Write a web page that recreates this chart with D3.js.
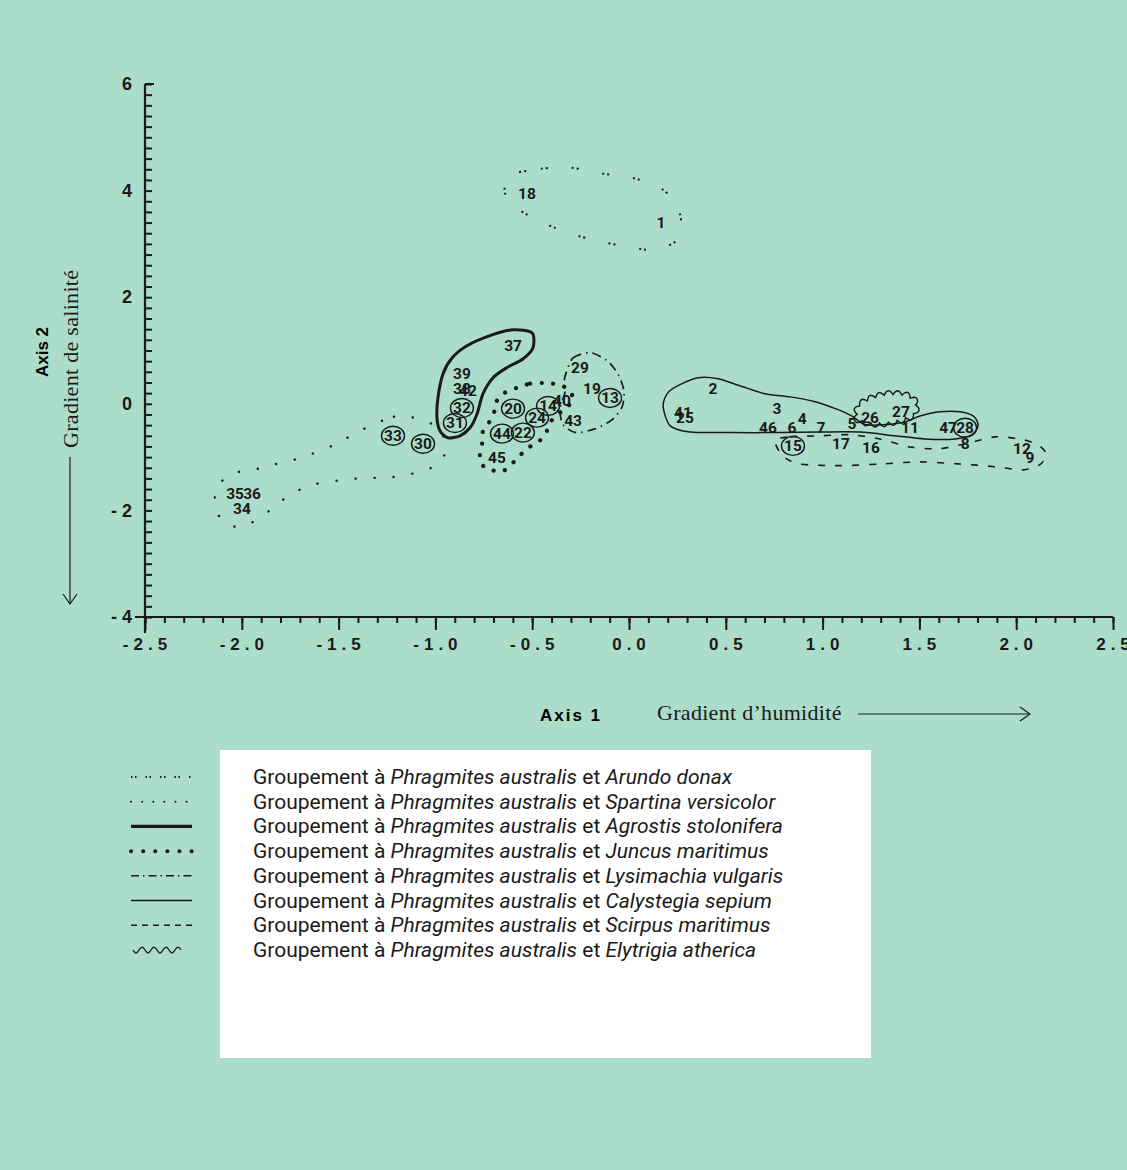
<!DOCTYPE html>
<html>
<head>
<meta charset="utf-8">
<title>Ordination des groupements à Phragmites</title>
<script src="https://cdn.jsdelivr.net/npm/d3@7"></script>
<style>
  html, body { margin: 0; padding: 0; background: #acdcca; }
  #chart svg { display: block; }
  .lbl { font-family: 'Liberation Sans Narrow', 'Arial Narrow', 'Roboto', sans-serif; font-size: 15.5px; font-weight: bold; fill: #1a1a1a; }
  .serif { font-family: 'Liberation Serif', 'DejaVu Serif', serif; font-size: 22px; letter-spacing: 0.3px; fill: #1a1a1a; }
  .leg { font-family: 'Liberation Sans Narrow', 'Arial Narrow', 'Roboto', sans-serif; font-size: 21px; fill: #1a1a1a; }
</style>
</head>
<body>
<div id="chart"></div>
<script>
// tick labels
const xTicks = [-2.5, -2.0, -1.5, -1.0, -0.5, 0.0, 0.5, 1.0, 1.5, 2.0, 2.5]
const yTicks = [-4, -2, 0, 2, 4, 6]

// releves (numbers, axis 1, axis 2)
const pointIds = [1, 2, 3, 4, 5, 6, 7, 8, 9, 11, 12, 13, 14, 15, 16, 17, 18, 19, 20, 22, 24, 25, 26, 27, 28, 29, 30, 31, 32, 33, 34, 35, 36, 37, 38, 39, 40, 41, 42, 43, 44, 45, 46, 47]
const pointX = [0.165, 0.434, 0.764, 0.894, 1.152, 0.842, 0.992, 1.736, 2.071, 1.451, 2.03, -0.098, -0.418, 0.847, 1.25, 1.095, -0.527, -0.191, -0.599, -0.548, -0.475, 0.289, 1.245, 1.405, 1.736, -0.253, -1.064, -0.899, -0.863, -1.219, -1.999, -2.035, -1.947, -0.599, -0.863, -0.863, -0.346, 0.279, -0.832, -0.289, -0.656, -0.682, 0.718, 1.648]
const pointY = [3.40, 0.28, -0.09, -0.28, -0.38, -0.45, -0.45, -0.75, -1.01, -0.45, -0.84, 0.11, -0.04, -0.79, -0.83, -0.75, 3.94, 0.28, -0.09, -0.54, -0.26, -0.26, -0.26, -0.15, -0.45, 0.68, -0.75, -0.36, -0.08, -0.60, -1.97, -1.69, -1.69, 1.09, 0.28, 0.56, 0.06, -0.17, 0.24, -0.32, -0.56, -1.01, -0.45, -0.45]
const circled = [13, 14, 15, 20, 22, 24, 28, 30, 31, 32, 33, 44]

// group outlines (axis 1, axis 2)
const arundoX = [-0.620, -0.455, -0.300, -0.139, -0.010, 0.119, 0.207, 0.263, 0.263, 0.139, 0.021, -0.191, -0.382, -0.579, -0.640]
const arundoY = [4.28, 4.41, 4.43, 4.32, 4.26, 4.13, 3.92, 3.56, 3.11, 2.89, 2.93, 3.08, 3.30, 3.66, 3.94]
const spartinaX = [-1.193, -1.276, -1.369, -1.457, -1.534, -1.637, -1.730, -1.834, -1.942, -2.051, -2.128, -2.138, -2.107, -2.025, -1.921, -1.839, -1.736, -1.612, -1.503, -1.369, -1.255, -1.147, -1.043, -0.966, -0.950, -0.976, -1.090]
const spartinaY = [-0.23, -0.32, -0.47, -0.64, -0.79, -0.94, -1.05, -1.14, -1.24, -1.31, -1.56, -1.88, -2.16, -2.31, -2.18, -1.95, -1.67, -1.50, -1.44, -1.39, -1.39, -1.33, -1.24, -1.05, -0.83, -0.47, -0.28]
const agrostisX = [-0.501, -0.599, -0.718, -0.837, -0.914, -0.961, -0.987, -0.992, -0.976, -0.935, -0.873, -0.821, -0.785, -0.754, -0.702, -0.630, -0.548, -0.496]
const agrostisY = [1.33, 1.39, 1.28, 1.09, 0.86, 0.56, 0.11, -0.26, -0.51, -0.64, -0.60, -0.45, -0.19, 0.19, 0.49, 0.68, 0.84, 1.05]
const juncusX = [-0.579, -0.511, -0.449, -0.398, -0.346, -0.305, -0.289, -0.331, -0.393, -0.418, -0.460, -0.527, -0.579, -0.651, -0.744, -0.770, -0.759, -0.754, -0.718, -0.692, -0.682, -0.640]
const juncusY = [0.30, 0.38, 0.39, 0.38, 0.34, 0.24, 0.06, -0.09, -0.28, -0.47, -0.69, -0.84, -1.03, -1.26, -1.20, -0.98, -0.75, -0.51, -0.32, -0.11, 0.06, 0.21]
const lysimachiaX = [-0.325, -0.289, -0.201, -0.114, -0.057, -0.026, -0.036, -0.088, -0.176, -0.274, -0.341, -0.356, -0.331, -0.336]
const lysimachiaY = [0.58, 0.86, 0.96, 0.81, 0.56, 0.24, -0.06, -0.30, -0.47, -0.54, -0.39, -0.09, 0.21, 0.39]
const calystegiaX = [0.176, 0.201, 0.263, 0.356, 0.460, 0.573, 0.702, 0.832, 0.961, 1.080, 1.152, 1.219, 1.322, 1.426, 1.503, 1.606, 1.710, 1.782, 1.803, 1.772, 1.684, 1.529, 1.374, 1.193, 0.987, 0.780, 0.522, 0.315, 0.212]
const calystegiaY = [-0.04, 0.21, 0.36, 0.49, 0.47, 0.34, 0.19, 0.13, 0.04, -0.11, -0.23, -0.39, -0.39, -0.34, -0.23, -0.15, -0.15, -0.24, -0.41, -0.58, -0.66, -0.66, -0.60, -0.53, -0.53, -0.54, -0.54, -0.53, -0.41]
const scirpusX = [0.754, 0.832, 0.987, 1.142, 1.296, 1.451, 1.606, 1.761, 1.890, 2.020, 2.113, 2.154, 2.123, 2.035, 1.890, 1.710, 1.503, 1.296, 1.090, 0.883, 0.795]
const scirpusY = [-0.69, -0.62, -0.60, -0.58, -0.66, -0.81, -0.84, -0.73, -0.62, -0.66, -0.77, -0.94, -1.14, -1.24, -1.18, -1.13, -1.09, -1.13, -1.16, -1.13, -0.98]
const elytrigiaX = [1.183, 1.193, 1.255, 1.338, 1.426, 1.477, 1.467, 1.374, 1.271]
const elytrigiaY = [-0.28, -0.04, 0.09, 0.17, 0.15, 0.02, -0.19, -0.32, -0.36]

// legend
const legendSpecies = ['Arundo donax', 'Spartina versicolor', 'Agrostis stolonifera', 'Juncus maritimus', 'Lysimachia vulgaris', 'Calystegia sepium', 'Scirpus maritimus', 'Elytrigia atherica']
const legendStyles = ['arundo', 'spartina', 'agrostis', 'juncus', 'lysimachia', 'calystegia', 'scirpus', 'elytrigia']

function draw() {
  // Dimensions
  const dimensions = {
    width: 1127,
    height: 1170,
    margins: { left: 145, top: 84, right: 14, bottom: 553 },
  }
  const ctrW = dimensions.width - dimensions.margins.left - dimensions.margins.right
  const ctrH = dimensions.height - dimensions.margins.top - dimensions.margins.bottom

  // Scales
  const xScale = d3.scaleLinear().domain([-2.5, 2.5]).range([0, ctrW])
  const yScale = d3.scaleLinear().domain([-4, 6]).range([ctrH, 0])

  const svg = d3
    .select('#chart')
    .append('svg')
    .attr('width', dimensions.width)
    .attr('height', dimensions.height)

  svg.append('rect').attr('width', dimensions.width).attr('height', dimensions.height).attr('fill', '#acdcca')

  const ctr = svg.append('g').attr('transform', `translate(${dimensions.margins.left}, ${dimensions.margins.top})`)

  // Axes
  const xMinor = d3.range(-25, 26).map((d) => d / 10)
  const yMinor = d3.range(-20, 31).map((d) => d / 5)

  const xMinorAxis = d3.axisBottom(xScale).tickValues(xMinor).tickSize(6).tickFormat('')
  const xAxis = d3.axisBottom(xScale).tickValues(xTicks).tickSize(13).tickPadding(8).tickFormat((d) => d.toFixed(1))
  const yMinorAxis = d3.axisRight(yScale).tickValues(yMinor).tickSize(7).tickFormat('')
  const yAxis = d3.axisLeft(yScale).tickValues(yTicks).tickSize(0).tickPadding(13).tickFormat((d) => (d < 0 ? '- ' + -d : d))

  const styleAxis = (g) => {
    g.selectAll('.domain').remove()
    g.selectAll('line').attr('stroke', '#1a1a1a').attr('stroke-width', 2)
  }

  ctr.append('g').attr('transform', `translate(0, ${ctrH})`).call(xMinorAxis).call(styleAxis)
  ctr.append('g').attr('transform', `translate(0, ${ctrH})`).call(xAxis).call(styleAxis)
    .attr('font-family', "'Liberation Sans', Arial, sans-serif").attr('font-size', 17).attr('font-weight', 'bold')
    .selectAll('text').attr('fill', '#1a1a1a').attr('dx', '2px').style('letter-spacing', '5px')
  ctr.append('g').call(yMinorAxis).call(styleAxis)
  ctr.append('g').call(yAxis).call(styleAxis)
    .attr('font-family', "'Liberation Sans', Arial, sans-serif").attr('font-size', 18).attr('font-weight', 'bold')
    .selectAll('text').attr('fill', '#1a1a1a')

  // axis lines
  ctr.append('line').attr('x1', 0).attr('x2', ctrW).attr('y1', ctrH).attr('y2', ctrH).attr('stroke', '#1a1a1a').attr('stroke-width', 2.2)
  ctr.append('line').attr('x1', 0).attr('x2', 0).attr('y1', 0).attr('y2', ctrH + 16).attr('stroke', '#1a1a1a').attr('stroke-width', 2.2)
  ctr.append('line').attr('x1', -10).attr('x2', 0).attr('y1', ctrH).attr('y2', ctrH).attr('stroke', '#1a1a1a').attr('stroke-width', 2)
  ctr.append('line').attr('x1', 0).attr('x2', 9).attr('y1', 0).attr('y2', 0).attr('stroke', '#1a1a1a').attr('stroke-width', 2)

  // group outlines
  const closed = d3.line().x((d) => xScale(d[0])).y((d) => yScale(d[1])).curve(d3.curveCardinalClosed.tension(0.2))
  const zip = (xs, ys) => xs.map((x, i) => [x, ys[i]])

  const groups = ctr.append('g').attr('fill', 'none').attr('stroke', '#1a1a1a')
  groups.append('path').attr('d', closed(zip(arundoX, arundoY))).attr('stroke-width', 2).attr('stroke-dasharray', '2,3,2,24')
  groups.append('path').attr('d', closed(zip(spartinaX, spartinaY))).attr('stroke-width', 2.4).attr('stroke-linecap', 'round').attr('stroke-dasharray', '0.1,19')
  groups.append('path').attr('d', closed(zip(agrostisX, agrostisY))).attr('stroke-width', 3)
  groups.append('path').attr('d', closed(zip(juncusX, juncusY))).attr('stroke-width', 4.2).attr('stroke-linecap', 'round').attr('stroke-dasharray', '0.1,11.5')
  groups.append('path').attr('d', closed(zip(lysimachiaX, lysimachiaY))).attr('stroke-width', 1.7).attr('stroke-dasharray', '9,5,1.5,5')
  groups.append('path').attr('d', closed(zip(calystegiaX, calystegiaY))).attr('stroke-width', 1.5)
  groups.append('path').attr('d', closed(zip(scirpusX, scirpusY))).attr('stroke-width', 1.6).attr('stroke-dasharray', '7,10')

  // wavy outline: scallops along a hidden guide path
  const guide = groups.append('path').attr('d', closed(zip(elytrigiaX, elytrigiaY))).attr('stroke', 'none')
  const node = guide.node()
  const L = node.getTotalLength()
  const n = Math.max(1, Math.round(L / 9))
  const seg = L / n
  const scallop = []
  for (let s = 0; s <= L; s += seg / 8) {
    const p = node.getPointAtLength(s)
    const q = node.getPointAtLength(Math.min(L, s + 0.5))
    const r = node.getPointAtLength(Math.max(0, s - 0.5))
    const dx = q.x - r.x
    const dy = q.y - r.y
    const len = Math.hypot(dx, dy) || 1
    const off = 4 * Math.abs(Math.sin((Math.PI * s) / seg))
    scallop.push([p.x + (dy / len) * off, p.y - (dx / len) * off])
  }
  groups.append('path').attr('d', d3.line()(scallop)).attr('stroke-width', 1.4)

  // releves
  const points = pointIds.map((id, i) => ({ id, x: pointX[i], y: pointY[i] }))
  ctr.append('g').selectAll('ellipse')
    .data(points.filter((d) => circled.includes(d.id)))
    .join('ellipse')
    .attr('cx', (d) => xScale(d.x))
    .attr('cy', (d) => yScale(d.y))
    .attr('rx', 11.5)
    .attr('ry', 9.5)
    .attr('fill', 'none')
    .attr('stroke', '#1a1a1a')
    .attr('stroke-width', 1.4)

  ctr.append('g').selectAll('text')
    .data(points)
    .join('text')
    .attr('class', 'lbl')
    .attr('x', (d) => xScale(d.x))
    .attr('y', (d) => yScale(d.y))
    .attr('dy', '0.35em')
    .attr('text-anchor', 'middle')
    .text((d) => d.id)

  // axis titles
  svg.append('text').attr('x', 571).attr('y', 721).attr('text-anchor', 'middle')
    .style('font-family', "'Liberation Sans', Arial, sans-serif").style('font-size', '17px').style('font-weight', 'bold').style('letter-spacing', '2px')
    .text('Axis  1')
  svg.append('text').attr('class', 'serif').attr('x', 657).attr('y', 720).text('Gradient d\u2019humidité')
  svg.append('line').attr('x1', 858).attr('x2', 1030).attr('y1', 714).attr('y2', 714).attr('stroke', '#1a1a1a').attr('stroke-width', 1.2)
  svg.append('path').attr('d', 'M1020,707 L1030,714 L1020,721').attr('fill', 'none').attr('stroke', '#1a1a1a').attr('stroke-width', 1.2)

  svg.append('text').attr('transform', 'translate(48, 352) rotate(-90)').attr('text-anchor', 'middle')
    .style('font-family', "'Liberation Sans', Arial, sans-serif").style('font-size', '17px').style('font-weight', 'bold')
    .text('Axis 2')
  svg.append('text').attr('class', 'serif').attr('transform', 'translate(78, 448) rotate(-90)').text('Gradient de salinité')
  svg.append('line').attr('x1', 70).attr('x2', 70).attr('y1', 457).attr('y2', 604).attr('stroke', '#1a1a1a').attr('stroke-width', 1.2)
  svg.append('path').attr('d', 'M63,594 L70,604 L77,594').attr('fill', 'none').attr('stroke', '#1a1a1a').attr('stroke-width', 1.2)

  // legend
  const legend = svg.append('g')
  legend.append('rect').attr('x', 220).attr('y', 750).attr('width', 651).attr('height', 308).attr('fill', '#ffffff')
  const rowY = d3.scalePoint().domain(legendStyles).range([777, 950])
  const symbolStyle = {
    arundo: { w: 1.8, dash: '1.5,2.5,1.5,9' },
    spartina: { w: 2, dash: '0.1,11', cap: 'round' },
    agrostis: { w: 3.2, dash: null },
    juncus: { w: 4, dash: '0.1,12', cap: 'round' },
    lysimachia: { w: 1.5, dash: '8,4,1.5,4' },
    calystegia: { w: 1.4, dash: null },
    scirpus: { w: 1.6, dash: '6,5' },
  }
  legendStyles.forEach((key, i) => {
    const y = rowY(key)
    if (key === 'elytrigia') {
      const pts = d3.range(0, 49, 1).map((t) => [133 + t, y + 3 * Math.sin((t / 12) * 2 * Math.PI)])
      legend.append('path').attr('d', d3.line().curve(d3.curveBasis)(pts)).attr('fill', 'none').attr('stroke', '#1a1a1a').attr('stroke-width', 1.3)
    } else {
      const s = symbolStyle[key]
      legend.append('line').attr('x1', 131).attr('x2', 192).attr('y1', y).attr('y2', y)
        .attr('stroke', '#1a1a1a').attr('stroke-width', s.w)
        .attr('stroke-dasharray', s.dash).attr('stroke-linecap', s.cap || 'butt')
    }
    const t = legend.append('text').attr('class', 'leg').attr('x', 253).attr('y', y + 7)
    t.append('tspan').text('Groupement à ')
    t.append('tspan').style('font-style', 'italic').text('Phragmites australis')
    t.append('tspan').text(' et ')
    t.append('tspan').style('font-style', 'italic').text(legendSpecies[i])
  })
}

draw()
</script>
</body>
</html>
